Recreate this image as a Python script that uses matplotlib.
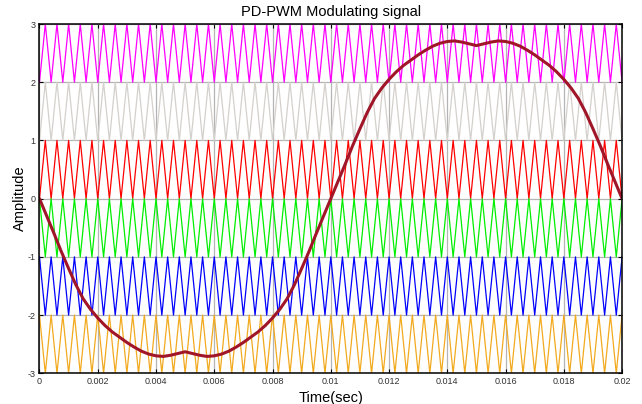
import numpy as np
import matplotlib.pyplot as plt
from matplotlib.ticker import FuncFormatter

plt.rcParams['font.family'] = ['Liberation Sans', 'DejaVu Sans']
plt.rcParams['axes.unicode_minus'] = False

# modulating reference, sampled every 0.25 ms over one 50 Hz cycle
t_ref = np.linspace(0, 0.02, 81)
v_ref = [0, -0.30, -0.60, -0.91, -1.20, -1.48, -1.72, -1.90, -2.05, -2.18,
         -2.29, -2.38, -2.47, -2.55, -2.62, -2.67, -2.70, -2.71, -2.69, -2.66,
         -2.63, -2.66, -2.69, -2.71, -2.70, -2.67, -2.62, -2.55, -2.47, -2.38,
         -2.29, -2.18, -2.05, -1.90, -1.72, -1.48, -1.20, -0.91, -0.60, -0.30,
         0, 0.30, 0.60, 0.91, 1.20, 1.48, 1.72, 1.90, 2.05, 2.18,
         2.29, 2.38, 2.47, 2.55, 2.62, 2.67, 2.70, 2.71, 2.69, 2.66,
         2.63, 2.66, 2.69, 2.71, 2.70, 2.67, 2.62, 2.55, 2.47, 2.38,
         2.29, 2.18, 2.05, 1.90, 1.72, 1.48, 1.20, 0.91, 0.60, 0.30, 0]

# carrier bands (lower, upper) and colours
carrier_freq = 2500
band_low = [2, 1, 0, -1, -2, -3]
band_colors = ['#ff00ff', '#d4d0cc', '#ff0000', '#00ee00', '#0000ff', '#f2aa1e']

fig = plt.figure(figsize=(6.42, 4.04), dpi=100)
ax = fig.add_axes([0.0615, 0.076, 0.9075, 0.8645])

# triangular carriers: upper bands rise from their low edge, lower bands fall from their top edge
half = 1.0 / carrier_freq / 2
n_half = int(round(0.02 / half))
tc = np.arange(n_half + 1) * half
ramp = np.arange(n_half + 1) % 2
for lo, c in zip(band_low, band_colors):
    if lo >= 0:
        ax.plot(tc, lo + ramp, color=c, lw=0.9)
    else:
        ax.plot(tc, lo + 1 - ramp, color=c, lw=0.9)

ax.plot(t_ref, v_ref, color='#a01628', lw=2.2, solid_capstyle='round')

ax.set_xlim(0, 0.02)
ax.set_ylim(-3, 3)
ax.set_xticks(np.linspace(0, 0.02, 11))
ax.set_yticks(range(-3, 4))
ax.xaxis.set_major_formatter(FuncFormatter(lambda v, p: '%g' % round(v, 4)))
ax.grid(True, color='#b4b4b4', lw=0.9)
ax.set_axisbelow(True)
ax.tick_params(direction='in', top=True, right=True, length=3, width=0.8,
               labelsize=6.5, labelcolor='#333333', pad=3)
for s in ax.spines.values():
    s.set_linewidth(1.1)
    s.set_color('black')

ax.set_title('PD-PWM Modulating signal', fontsize=10.5, pad=6)
ax.set_xlabel('Time(sec)', fontsize=10.5, labelpad=3)
ax.set_ylabel('Amplitude', fontsize=10.5, labelpad=0)

fig.savefig('out.png', dpi=100)
